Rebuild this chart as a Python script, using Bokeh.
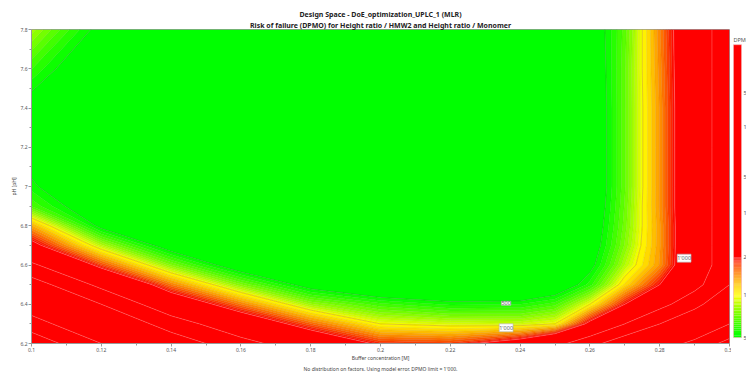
import numpy as np
from bokeh.plotting import figure
from bokeh.models import Range1d, FixedTicker, Title, ColumnDataSource, LabelSet
from bokeh.layouts import row
from bokeh.core.properties import value
from bokeh.embed import file_html
from bokeh.resources import INLINE

# ---------------- data ----------------
buffer_conc = [0.10, 0.12, 0.14, 0.16, 0.18, 0.20, 0.22, 0.24, 0.25, 0.26, 0.27, 0.28, 0.29, 0.30]
ph = [6.2, 6.3, 6.4, 6.5, 6.6, 6.7, 6.8, 6.9, 7.0, 7.2, 7.4, 7.6, 7.8]
# log10(DPMO); one row per pH value (6.2 upwards), one column per buffer concentration
log_dpmo = [
    [5.20, 4.70, 4.20, 3.80, 3.50, 3.27, 3.25, 3.40, 3.60, 3.90, 4.20, 4.50, 4.80, 5.10],  # 6.2
    [4.85, 4.35, 3.85, 3.48, 3.21, 3.00, 2.97, 2.96, 3.00, 3.35, 3.70, 4.00, 4.30, 4.70],  # 6.3
    [4.50, 4.00, 3.48, 3.18, 2.91, 2.79, 2.73, 2.74, 2.80, 3.00, 3.30, 3.60, 3.90, 4.30],  # 6.4
    [4.15, 3.62, 3.18, 2.88, 2.64, 2.53, 2.50, 2.50, 2.58, 2.76, 3.05, 3.30, 3.60, 4.00],  # 6.5
    [3.75, 3.24, 2.88, 2.60, 2.50, 2.43, 2.41, 2.42, 2.48, 2.66, 2.93, 3.15, 3.50, 3.90],  # 6.6
    [3.36, 2.94, 2.62, 2.50, 2.42, 2.37, 2.36, 2.37, 2.42, 2.62, 2.88, 3.14, 3.50, 3.90],  # 6.7
    [3.12, 2.66, 2.55, 2.42, 2.36, 2.33, 2.32, 2.33, 2.38, 2.60, 2.86, 3.14, 3.50, 3.90],  # 6.8
    [2.81, 2.58, 2.45, 2.36, 2.32, 2.30, 2.29, 2.30, 2.36, 2.58, 2.85, 3.15, 3.50, 3.90],  # 6.9
    [2.72, 2.50, 2.38, 2.32, 2.30, 2.28, 2.27, 2.28, 2.35, 2.57, 2.84, 3.15, 3.50, 3.90],  # 7.0
    [2.62, 2.45, 2.35, 2.30, 2.28, 2.26, 2.25, 2.26, 2.34, 2.57, 2.84, 3.15, 3.50, 3.90],  # 7.2
    [2.64, 2.45, 2.35, 2.30, 2.28, 2.26, 2.25, 2.26, 2.34, 2.57, 2.84, 3.15, 3.50, 3.90],  # 7.4
    [2.78, 2.55, 2.40, 2.35, 2.30, 2.28, 2.27, 2.28, 2.36, 2.58, 2.84, 3.16, 3.50, 3.90],  # 7.6
    [2.92, 2.66, 2.47, 2.40, 2.38, 2.36, 2.35, 2.36, 2.42, 2.60, 2.83, 3.17, 3.50, 3.90],  # 7.8
]

dpmo_levels = [10, 500, 550, 600, 650, 700, 750, 800, 850, 900, 950, 1000, 1100, 1200, 1300,
               1400, 1500, 1600, 1700, 1800, 1900, 2000, 5000, 10000, 50000, 100000, 500000, 1000000]

x_ticks = [0.10, 0.12, 0.14, 0.16, 0.18, 0.20, 0.22, 0.24, 0.26, 0.28, 0.30]
x_tick_labels = ["0.1", "0.12", "0.14", "0.16", "0.18", "0.2", "0.22", "0.24", "0.26", "0.28", "0.3"]
y_ticks = [6.2, 6.4, 6.6, 6.8, 7.0, 7.2, 7.4, 7.6, 7.8]
y_tick_labels = ["6.2", "6.4", "6.6", "6.8", "7", "7.2", "7.4", "7.6", "7.8"]

contour_label_x = [0.236, 0.236, 0.287]
contour_label_y = [6.405, 6.28, 6.635]
contour_label_text = ["500", "1'000", "1'000"]

cb_values = [500, 1000, 2000, 10000, 50000, 100000, 500000, 1000000]
cb_labels = ["500", "1'000", "2'000", "10'000", "50'000", "100'000", "500'000", ""]
# vertical pixel position (inside the colour-bar panel) of each colour-bar value
cb_pos = [365, 315, 270, 217, 175, 115, 75, 18]

title1 = "Design Space - DoE_optimization_UPLC_1 (MLR)"
title2 = "Risk of failure (DPMO) for Height ratio / HMW2 and Height ratio / Monomer"
footer = "No distribution on factors. Using model error. DPMO limit = 1'000."
FONT = "Noto Sans"


def rgb_for(v):
    if v <= 500:
        return (0, 255, 0)
    if v < 1000:
        t = (v - 500) / 500.0
        return (int(round(255 * t)), 255, 0)
    if v < 2000:
        t = (v - 1000) / 1000.0
        return (255, int(round(255 * (1 - t))), 0)
    return (255, 0, 0)


def hexc(rgb):
    return "#%02x%02x%02x" % tuple(max(0, min(255, int(c))) for c in rgb)


def darker(rgb, f=0.85):
    return tuple(c * f for c in rgb)


# ---------------- main figure ----------------
p = figure(width=731, height=372, x_range=Range1d(0.1, 0.3), y_range=Range1d(6.2, 7.8),
           output_backend="svg", toolbar_location=None, title=None,
           min_border_left=31, min_border_right=2, min_border_top=29, min_border_bottom=29)
p.background_fill_color = "white"
p.border_fill_color = "white"
p.outline_line_color = "#9a9a9a"
p.grid.grid_line_color = None

z = np.array(log_dpmo, dtype=float)
lv = np.log10(np.array(dpmo_levels, dtype=float))
fill_cols = []
for a, b in zip(dpmo_levels[:-1], dpmo_levels[1:]):
    mid = (a + b) / 2.0 if b <= 2000 else b
    fill_cols.append(hexc(rgb_for(mid)))
line_cols = []
for v in dpmo_levels:
    if v == 500:
        line_cols.append("#27a327")
    elif v == 1000:
        line_cols.append("#c49a00")
    elif v >= 2000:
        line_cols.append("#ff6a6a")
    else:
        line_cols.append(hexc(darker(rgb_for(v), 0.9)))

p.contour(np.array(buffer_conc), np.array(ph), z, lv,
          fill_color=fill_cols, line_color=line_cols, line_width=0.5)

lab_src = ColumnDataSource(dict(x=contour_label_x, y=contour_label_y, text=contour_label_text))
p.add_layout(LabelSet(x="x", y="y", text="text", source=lab_src, text_align="center",
                      text_baseline="middle", text_font_size="5.5px", text_color="#666666",
                      text_font=value(FONT), background_fill_color="white",
                      border_line_color="#b0b0b0", border_line_width=0.6))

minor_x = [(a + b) / 2 for a, b in zip(x_ticks[:-1], x_ticks[1:])]
minor_y = [(a + b) / 2 for a, b in zip(y_ticks[:-1], y_ticks[1:])]
p.xaxis.ticker = FixedTicker(ticks=x_ticks, minor_ticks=minor_x)
p.yaxis.ticker = FixedTicker(ticks=y_ticks, minor_ticks=minor_y)
p.xaxis.major_label_overrides = {t: l for t, l in zip(x_ticks, x_tick_labels)}
p.yaxis.major_label_overrides = {t: l for t, l in zip(y_ticks, y_tick_labels)}
p.xaxis.axis_label = "Buffer concentration [M]"
p.yaxis.axis_label = "pH [pH]"
for ax in (p.xaxis[0], p.yaxis[0]):
    ax.axis_line_color = "#9a9a9a"
    ax.major_tick_line_color = "#9a9a9a"
    ax.minor_tick_line_color = "#9a9a9a"
    ax.major_tick_out = 3
    ax.major_tick_in = 0
    ax.minor_tick_out = 2
    ax.minor_tick_in = 0
    ax.major_label_text_font_size = "5px"
    ax.major_label_text_color = "#555555"
    ax.major_label_text_font = FONT
    ax.major_label_standoff = 1
    ax.axis_label_text_font_size = "5px"
    ax.axis_label_text_font_style = "normal"
    ax.axis_label_text_color = "#444444"
    ax.axis_label_text_font = FONT
    ax.axis_label_standoff = 0

t2 = Title(text=title2, align="center", offset=20, text_font_size="7px", text_font_style="bold",
           text_color="#222222", text_font=FONT, standoff=0)
t1 = Title(text=title1, align="center", offset=-5, text_font_size="7px", text_font_style="bold",
           text_color="#222222", text_font=FONT, standoff=0)
p.add_layout(t2, "above")
p.add_layout(t1, "above")
tf = Title(text=footer, align="center", offset=-7, text_font_size="5px", text_font_style="normal",
           text_color="#444444", text_font=FONT, standoff=0)
p.add_layout(tf, "below")

# ---------------- colour bar panel ----------------
cb = figure(width=15, height=372, x_range=Range1d(0, 15), y_range=Range1d(372, 0),
            output_backend="svg", toolbar_location=None, title=None,
            min_border_left=0, min_border_right=0, min_border_top=0, min_border_bottom=0)
cb.axis.visible = False
cb.grid.grid_line_color = None
cb.outline_line_color = None
cb.background_fill_color = "white"
cb.border_fill_color = "white"

lcv = np.log10(np.array(cb_values, dtype=float))
steps = list(np.arange(500, 2000, 20)) + [2000, 1000000]
bots, tops, cols = [], [], []
for a, b in zip(steps[:-1], steps[1:]):
    bots.append(float(np.interp(np.log10(a), lcv, cb_pos)))
    tops.append(float(np.interp(np.log10(b), lcv, cb_pos)))
    cols.append(hexc(rgb_for((a + b) / 2.0 if b <= 2000 else b)))
cb.quad(left=2, right=10, bottom=bots, top=tops, fill_color=cols, line_color=None)
cb.quad(left=2, right=10, bottom=cb_pos[0], top=cb_pos[-1], fill_color=None,
        line_color="#f3b0b0", line_width=0.6)
cb.text(x=12, y=cb_pos[:-1], text=cb_labels[:-1], text_font_size="5.5px", text_color="#555555",
        text_baseline="middle", text_align="left", text_font=value(FONT))
cb.text(x=[2], y=[8], text=["DPMO"], text_font_size="5.5px", text_color="#555555",
        text_baseline="top", text_align="left", text_font=value(FONT))

layout = row(p, cb)
open("out.html", "w").write(file_html(layout, INLINE))
